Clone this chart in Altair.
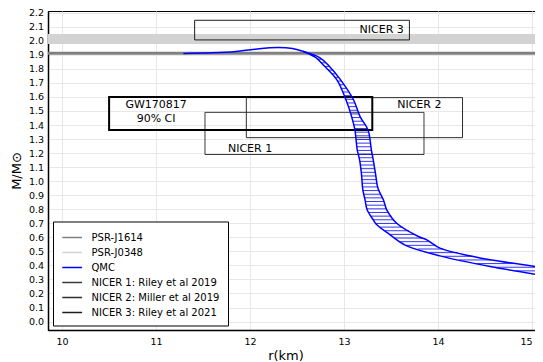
import altair as alt
import pandas as pd
import numpy as np

# ---- axes ----
x_ticks = [10, 11, 12, 13, 14, 15]
y_ticks = [0.0, 0.1, 0.2, 0.3, 0.4, 0.5, 0.6, 0.7, 0.8, 0.9, 1.0, 1.1,
           1.2, 1.3, 1.4, 1.5, 1.6, 1.7, 1.8, 1.9, 2.0, 2.1, 2.2]
x_domain = [9.85, 15.031]
y_domain = [-0.06, 2.212]

# ---- legend ----
legend_labels = ["PSR-J1614", "PSR-J0348", "QMC",
                 "NICER 1: Riley et al 2019", "NICER 2: Miller et al 2019",
                 "NICER 3: Riley et al 2021"]
legend_colors = ["#808080", "#d3d3d3", "#0000ff", "#3a3a3a", "#2e2e2e", "#1e1e1e"]

# ---- pulsar mass bands ----
psr_names = ["PSR-J0348", "PSR-J1614"]
psr_lo = [1.977, 1.900]
psr_hi = [2.048, 1.922]

# ---- NICER boxes ----
nicer_names = ["NICER 1: Riley et al 2019", "NICER 2: Miller et al 2019",
               "NICER 3: Riley et al 2021"]
nicer_r_lo = [11.52, 11.96, 11.41]
nicer_r_hi = [13.85, 14.26, 13.695]
nicer_m_lo = [1.19, 1.31, 2.006]
nicer_m_hi = [1.49, 1.595, 2.146]

# ---- GW170817 box ----
gw_r_lo = [10.50]
gw_r_hi = [13.30]
gw_m_lo = [1.365]
gw_m_hi = [1.600]

# ---- annotations ----
ann_text = ["NICER 1", "NICER 2", "NICER 3", "GW170817", "90% CI"]
ann_r = [12.00, 13.80, 13.40, 11.00, 11.00]
ann_m = [1.230, 1.541, 2.077, 1.541, 1.443]

# ---- QMC band ----
top_r = [11.29, 11.60, 11.85, 12.05, 12.30, 12.45, 12.56]
top_m = [1.910, 1.914, 1.924, 1.940, 1.952, 1.945, 1.925]

a_r = [12.56, 12.70, 12.79, 12.925, 13.02, 13.08, 13.115, 13.14, 13.165, 13.185,
       13.199, 13.223, 13.245, 13.31, 13.348, 13.49, 13.649, 14.02, 14.553, 15.117]
a_m = [1.925, 1.88, 1.82, 1.72, 1.58, 1.46, 1.365, 1.223, 1.152, 1.05,
       0.94, 0.867, 0.796, 0.725, 0.689, 0.618, 0.545, 0.468, 0.392, 0.328]

b_r = [12.56, 12.74, 12.84, 12.965, 13.10, 13.17, 13.255, 13.29, 13.31, 13.335,
       13.36, 13.418, 13.454, 13.56, 13.79, 13.88, 14.02, 14.375, 14.553, 15.117]
b_m = [1.925, 1.88, 1.82, 1.72, 1.58, 1.46, 1.365, 1.223, 1.152, 1.05,
       0.95, 0.867, 0.796, 0.70, 0.606, 0.582, 0.523, 0.463, 0.440, 0.385]

hatch_step = 0.026

# ---- tables ----
df_psr = pd.DataFrame({"name": psr_names, "lo": psr_lo, "hi": psr_hi})
df_nicer = pd.DataFrame({"name": nicer_names, "rlo": nicer_r_lo, "rhi": nicer_r_hi,
                         "mlo": nicer_m_lo, "mhi": nicer_m_hi})
df_gw = pd.DataFrame({"rlo": gw_r_lo, "rhi": gw_r_hi, "mlo": gw_m_lo, "mhi": gw_m_hi})
df_ann = pd.DataFrame({"t": ann_text, "r": ann_r, "m": ann_m})

rows = []
for cname, rr, mm in [("top", top_r, top_m), ("a", a_r, a_m), ("b", b_r, b_m)]:
    for i, (r, m) in enumerate(zip(rr, mm)):
        rows.append({"name": "QMC", "curve": cname, "idx": i, "r": r, "m": m})
df_qmc = pd.DataFrame(rows)

levels = np.arange(0.335, 1.905, hatch_step)
df_hatch = pd.DataFrame({
    "m": levels,
    "ra": np.interp(levels, a_m[::-1], a_r[::-1]),
    "rb": np.interp(levels, b_m[::-1], b_r[::-1]),
})

# ---- scales / axes ----
xs = alt.Scale(domain=x_domain, nice=False, zero=False)
ys = alt.Scale(domain=y_domain, nice=False, zero=False)
cs = alt.Scale(domain=legend_labels, range=legend_colors)

xaxis = alt.Axis(values=x_ticks, title="r(km)", grid=True, gridColor="#e8e8e8",
                 gridWidth=1, ticks=False, labelFontSize=9.5, labelFont="DejaVu Sans",
                 labelColor="black", labelPadding=6, labelFlush=5,
                 domainColor="black", domainWidth=1.5,
                 titleFont="DejaVu Sans", titleFontSize=13, titleFontWeight="normal",
                 titleColor="black", titleX=237.5, titleY=29.5,
                 titleBaseline="alphabetic", titleAlign="center")
yaxis = alt.Axis(values=y_ticks, format=".1f", title="M/M⊙", grid=True,
                 gridColor="#e8e8e8", gridWidth=1, ticks=False, labelFontSize=9.5,
                 labelFont="DejaVu Sans", labelColor="black", labelPadding=4.5,
                 labelFlush=False,
                 domainColor="black", domainWidth=1.5,
                 titleFont="DejaVu Sans", titleFontSize=13, titleFontWeight="normal",
                 titleColor="black", titleX=-32, titleY=159.5, titleAngle=-90,
                 titleAlign="center", titleBaseline="middle")

legend = alt.Legend(title=None, orient="none", legendX=5, legendY=210.5,
                    symbolType="M-0.95,0L1.85,0", symbolSize=200, symbolStrokeWidth=1.5,
                    labelFontSize=10, labelFont="DejaVu Sans", labelColor="black",
                    labelOffset=14.5, rowPadding=2.0, padding=8,
                    strokeColor="black", fillColor="white")

color_enc = alt.Color("name:N", scale=cs, legend=legend)

bands = alt.Chart(df_psr).mark_rect(clip=True).encode(
    y=alt.Y("lo:Q", scale=ys, axis=yaxis),
    y2="hi:Q",
    color=color_enc,
)

boxes = alt.Chart(df_nicer).mark_rect(filled=False, strokeWidth=1, clip=True).encode(
    x=alt.X("rlo:Q", scale=xs, axis=xaxis),
    x2="rhi:Q",
    y=alt.Y("mlo:Q", scale=ys, axis=yaxis),
    y2="mhi:Q",
    color=color_enc,
)

gw = alt.Chart(df_gw).mark_rect(filled=False, stroke="black", strokeWidth=2, clip=True).encode(
    x=alt.X("rlo:Q", scale=xs, axis=xaxis),
    x2="rhi:Q",
    y=alt.Y("mlo:Q", scale=ys, axis=yaxis),
    y2="mhi:Q",
)

hatch = alt.Chart(df_hatch).mark_rule(color="#0000ff", strokeWidth=0.8, clip=True).encode(
    x=alt.X("ra:Q", scale=xs, axis=xaxis),
    x2="rb:Q",
    y=alt.Y("m:Q", scale=ys, axis=yaxis),
)

qmc = alt.Chart(df_qmc).mark_line(strokeWidth=1.5, clip=True, interpolate="catmull-rom").encode(
    x=alt.X("r:Q", scale=xs, axis=xaxis),
    y=alt.Y("m:Q", scale=ys, axis=yaxis),
    detail="curve:N",
    order="idx:Q",
    color=color_enc,
)

texts = alt.Chart(df_ann).mark_text(fontSize=11, font="DejaVu Sans", color="black",
                                    baseline="middle", align="center").encode(
    x=alt.X("r:Q", scale=xs, axis=xaxis),
    y=alt.Y("m:Q", scale=ys, axis=yaxis),
    text="t:N",
)

chart = alt.layer(bands, boxes, gw, hatch, qmc, texts).properties(
    width=487, height=319,
    autosize=alt.AutoSizeParams(type="none"),
    padding={"left": 40, "top": 3, "right": 0, "bottom": 34},
).configure_view(stroke="black", strokeWidth=1)

chart.save("out.html", embed_options={"renderer": "svg", "actions": False})
